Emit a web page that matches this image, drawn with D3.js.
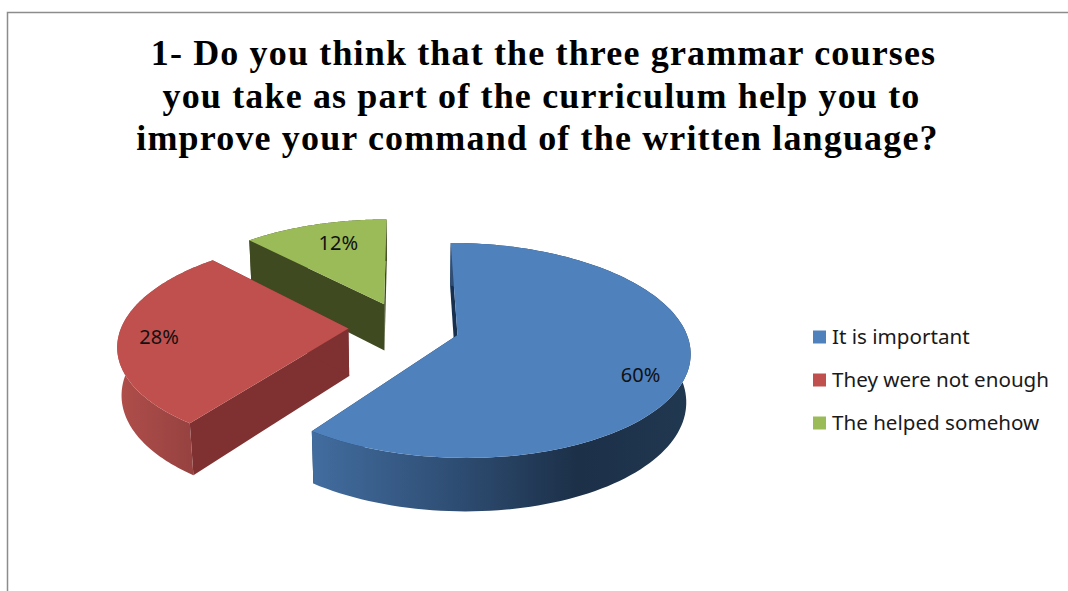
<!DOCTYPE html>
<html>
<head>
<meta charset="utf-8">
<title>Grammar courses</title>
<script src="https://cdn.jsdelivr.net/npm/d3@7"></script>
<style>
	html, body { margin: 0; padding: 0; background: #fff; overflow: hidden; }
	svg { display: block; }
</style>
</head>
<body>
<svg id="chart" width="1068" height="591"></svg>
<script>
const titleLines = [
	'1- Do you think that the three grammar courses',
	'you take as part of the curriculum help you to',
	'improve your command of the written language?'
];
const titleCentres = [ 543.5, 541.5, 537.5 ];
const categories = [ 'It is important', 'They were not enough', 'The helped somehow' ];
const values = [ 60, 28, 12 ];
const colours = [ '#4f81bd', '#c0504d', '#9bbb59' ];
const sideColours = [ '#17304f', '#7e3130', '#3f4a21' ];
const wallStops = [
	[ [ 0, '#426d9f' ], [ 0.38, '#2e4d73' ], [ 0.7, '#1c3048' ], [ 1, '#203850' ] ],
	[ [ 0, '#b04e4b' ], [ 1, '#8f3f3d' ] ],
	[ [ 0, '#3f4a21' ], [ 1, '#3f4a21' ] ]
];
const labelNudge = [ [ 0, 13 ], [ -6, 3 ], [ 11, 4 ] ];

// perspective set up by eye against the picture
const cam = { x: 404, y: 327, rx: 227, ry: 103, depth: 48, b: -0.143, c: 0.015 };
const explode = 0.245;

const svg = d3.select( '#chart' );
const defs = svg.append( 'defs' );

const project = ( u, v, z ) => {
	const w = 1 + cam.b * v - cam.c * z;
	return [ cam.x + cam.rx * u / w, cam.y + ( cam.ry * v - cam.depth * z ) / w ];
};

const line = d3.line();
const slices = d3.pie().value( ( d ) => d ).sort( null )( values );

const offset = ( s ) => {
	const mid = ( s.startAngle + s.endAngle ) / 2;
	return [ explode * Math.sin( mid ), -explode * Math.cos( mid ) ];
};
const rim = ( s, a, z ) => {
	const o = offset( s );
	return project( o[ 0 ] + Math.sin( a ), o[ 1 ] - Math.cos( a ), z );
};
const arcAngles = ( s ) => d3.range( 0, 121 ).map( ( i ) => s.startAngle + ( s.endAngle - s.startAngle ) * i / 120 );

svg.append( 'rect' )
	.attr( 'x', 7.5 )
	.attr( 'y', 12.5 )
	.attr( 'width', 1200 )
	.attr( 'height', 800 )
	.attr( 'fill', '#fff' )
	.attr( 'stroke', '#8c8c8c' )
	.attr( 'stroke-width', 1.5 );

svg.selectAll( 'text.title' )
	.data( titleLines )
	.enter()
	.append( 'text' )
	.attr( 'class', 'title' )
	.attr( 'x', ( d, i ) => titleCentres[ i ] )
	.attr( 'y', ( d, i ) => 65 + i * 42.5 )
	.attr( 'text-anchor', 'middle' )
	.attr( 'font-family', '"Liberation Serif", serif' )
	.attr( 'font-weight', 'bold' )
	.attr( 'font-size', 36 )
	.attr( 'letter-spacing', 1.15 )
	.attr( 'fill', '#000' )
	.text( ( d ) => d );

// far slices first so the nearer ones cover them
const order = [ 2, 1, 0 ];
order.forEach( ( i ) => {
	const s = slices[ i ],
		o = offset( s ),
		angles = arcAngles( s ),
		top = angles.map( ( a ) => rim( s, a, 0 ) ),
		bottom = angles.map( ( a ) => rim( s, a, -1 ) ),
		apexTop = project( o[ 0 ], o[ 1 ], 0 ),
		apexBottom = project( o[ 0 ], o[ 1 ], -1 ),
		g = svg.append( 'g' ).attr( 'class', 'slice' );

	const xs = d3.extent( top, ( d ) => d[ 0 ] ),
		grad = defs.append( 'linearGradient' )
			.attr( 'id', 'wall' + i )
			.attr( 'gradientUnits', 'userSpaceOnUse' )
			.attr( 'x1', xs[ 0 ] )
			.attr( 'x2', xs[ 1 ] )
			.attr( 'y1', 0 )
			.attr( 'y2', 0 );
	grad.selectAll( 'stop' )
		.data( wallStops[ i ] )
		.enter()
		.append( 'stop' )
		.attr( 'offset', ( d ) => d[ 0 ] )
		.attr( 'stop-color', ( d ) => d[ 1 ] );

	// radial walls
	[ 0, angles.length - 1 ].forEach( ( k ) => {
		g.append( 'path' )
			.attr( 'd', line( [ apexTop, top[ k ], bottom[ k ], apexBottom ] ) + 'Z' )
			.attr( 'fill', sideColours[ i ] );
	} );

	// outer wall
	g.append( 'path' )
		.attr( 'd', line( top.concat( bottom.slice().reverse() ) ) + 'Z' )
		.attr( 'fill', 'url(#wall' + i + ')' );

	// top face
	g.append( 'path' )
		.attr( 'd', line( [ apexTop ].concat( top ) ) + 'Z' )
		.attr( 'fill', colours[ i ] );
} );

svg.selectAll( 'text.value' )
	.data( slices )
	.enter()
	.append( 'text' )
	.attr( 'class', 'value' )
	.attr( 'transform', ( d, i ) => {
		const mid = ( d.startAngle + d.endAngle ) / 2,
			o = offset( d ),
			p = project( o[ 0 ] + 0.8 * Math.sin( mid ), o[ 1 ] - 0.8 * Math.cos( mid ), 0 );
		return `translate(${ p[ 0 ] + labelNudge[ i ][ 0 ] },${ p[ 1 ] + labelNudge[ i ][ 1 ] })`;
	} )
	.attr( 'text-anchor', 'middle' )
	.attr( 'dy', '0.35em' )
	.attr( 'font-family', '"Noto Sans", sans-serif' )
	.attr( 'font-size', 20 )
	.attr( 'fill', '#111' )
	.text( ( d ) => d.value + '%' );

const legendY = d3.scalePoint().domain( categories ).range( [ 337, 423 ] );
const legend = svg.selectAll( 'g.legend' )
	.data( categories )
	.enter()
	.append( 'g' )
	.attr( 'class', 'legend' )
	.attr( 'transform', ( d ) => `translate(813,${ legendY( d ) })` );

legend.append( 'rect' )
	.attr( 'y', -6.5 )
	.attr( 'width', 13 )
	.attr( 'height', 13 )
	.attr( 'fill', ( d, i ) => colours[ i ] );

legend.append( 'text' )
	.attr( 'x', 19 )
	.attr( 'dy', '0.35em' )
	.attr( 'font-family', '"Noto Sans", sans-serif' )
	.attr( 'font-size', 20.6 )
	.attr( 'fill', '#1a1a1a' )
	.text( ( d ) => d );
</script>
</body>
</html>
